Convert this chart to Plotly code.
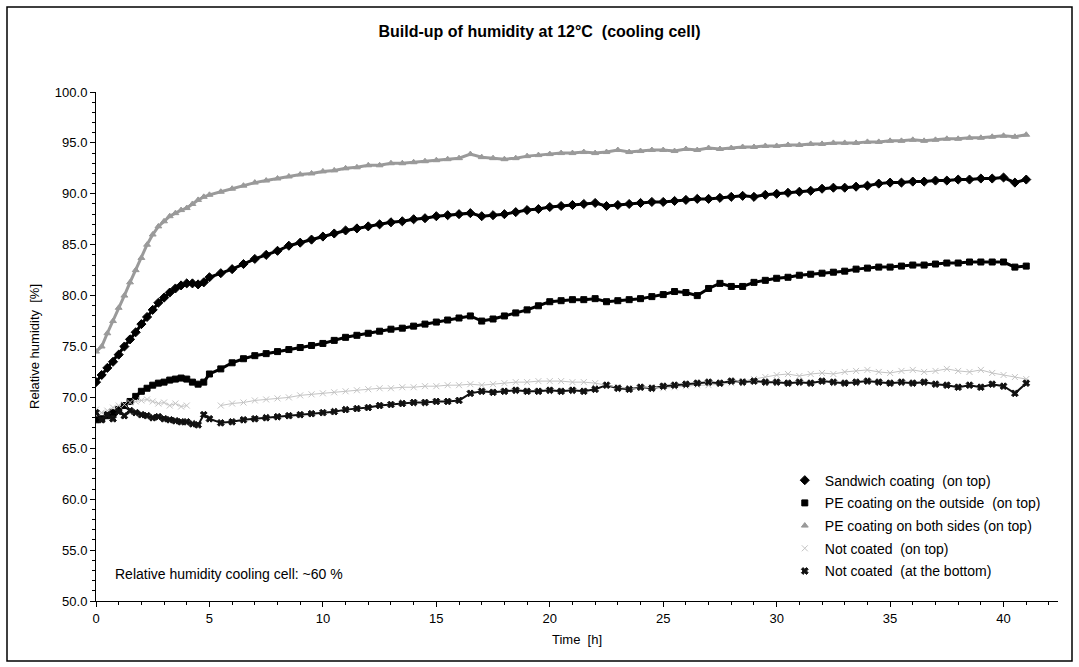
import plotly.graph_objects as go

time_h = [0, 0.25, 0.5, 0.75, 1.0, 1.25, 1.5, 1.75, 2.0, 2.25, 2.5, 2.75, 3.0, 3.25, 3.5, 3.75, 4.0, 4.25, 4.5, 4.75, 5.0,
          5.5, 6, 6.5, 7, 7.5, 8, 8.5, 9, 9.5, 10, 10.5, 11, 11.5, 12, 12.5, 13, 13.5, 14, 14.5, 15,
          15.5, 16, 16.5, 17, 17.5, 18, 18.5, 19, 19.5, 20, 20.5, 21, 21.5, 22, 22.5, 23, 23.5, 24, 24.5, 25,
          25.5, 26, 26.5, 27, 27.5, 28, 28.5, 29, 29.5, 30, 30.5, 31, 31.5, 32, 32.5, 33, 33.5, 34, 34.5, 35,
          35.5, 36, 36.5, 37, 37.5, 38, 38.5, 39, 39.5, 40, 40.5, 41]

sandwich = [71.5, 72.2, 72.9, 73.5, 74.2, 75.0, 75.7, 76.4, 77.2, 77.9, 78.6, 79.3, 79.8, 80.3, 80.7, 81.0, 81.2, 81.2, 81.1, 81.3, 81.8,
            82.2, 82.6, 83.1, 83.6, 84.0, 84.4, 84.9, 85.2, 85.5, 85.8, 86.1, 86.4, 86.6, 86.8, 87.0, 87.2, 87.3, 87.5, 87.6, 87.8,
            87.9, 88.0, 88.1, 87.8, 87.9, 88.0, 88.2, 88.4, 88.5, 88.7, 88.8, 88.9, 89.0, 89.1, 88.8, 88.9, 89.0, 89.1, 89.2, 89.2,
            89.3, 89.4, 89.5, 89.5, 89.6, 89.7, 89.8, 89.7, 89.9, 90.0, 90.1, 90.2, 90.3, 90.5, 90.6, 90.6, 90.7, 90.8, 91.0, 91.1,
            91.1, 91.2, 91.2, 91.3, 91.3, 91.4, 91.4, 91.5, 91.5, 91.6, 91.1, 91.4]

pe_outside = [67.8, 67.9, 68.2, 68.5, 68.8, 69.2, 69.6, 70.1, 70.6, 70.9, 71.2, 71.4, 71.5, 71.7, 71.8, 71.9, 71.8, 71.5, 71.3, 71.5, 72.3,
              72.8, 73.4, 73.8, 74.1, 74.3, 74.5, 74.7, 74.9, 75.1, 75.3, 75.6, 75.9, 76.1, 76.3, 76.5, 76.7, 76.8, 77.0, 77.2, 77.4,
              77.6, 77.8, 78.0, 77.5, 77.7, 78.0, 78.3, 78.6, 79.0, 79.4, 79.5, 79.6, 79.6, 79.7, 79.4, 79.5, 79.6, 79.7, 79.9, 80.1,
              80.4, 80.3, 80.0, 80.7, 81.2, 80.9, 80.9, 81.3, 81.5, 81.7, 81.8, 82.0, 82.1, 82.2, 82.3, 82.4, 82.6, 82.7, 82.8, 82.8,
              82.9, 83.0, 83.0, 83.1, 83.2, 83.2, 83.3, 83.3, 83.3, 83.3, 82.8, 82.9]

pe_both = [74.5, 75.0, 76.3, 77.5, 78.8, 80.0, 81.3, 82.5, 83.7, 85.0, 86.0, 86.8, 87.3, 87.8, 88.1, 88.4, 88.6, 89.0, 89.4, 89.7, 89.9,
           90.2, 90.5, 90.8, 91.1, 91.3, 91.5, 91.7, 91.9, 92.0, 92.2, 92.3, 92.5, 92.6, 92.8, 92.8, 93.0, 93.0, 93.1, 93.2, 93.3,
           93.4, 93.5, 93.9, 93.6, 93.5, 93.4, 93.5, 93.7, 93.8, 93.9, 94.0, 94.0, 94.1, 94.0, 94.1, 94.3, 94.1, 94.2, 94.3, 94.3,
           94.2, 94.4, 94.3, 94.5, 94.4, 94.5, 94.6, 94.6, 94.7, 94.7, 94.8, 94.8, 94.9, 94.9, 95.0, 95.0, 95.0, 95.1, 95.1, 95.2,
           95.2, 95.3, 95.2, 95.3, 95.4, 95.4, 95.5, 95.5, 95.6, 95.7, 95.6, 95.8]

not_coated_top = [68.8, 68.5, 68.7, 69.0, 69.2, 69.3, 69.5, 69.6, 69.7, 69.8, 69.6, 69.4, 69.5, 69.2, 69.4, 69.1, 69.2, None, None, None, None,
                  69.2, 69.4, 69.5, 69.7, 69.8, 69.9, 70.0, 70.2, 70.3, 70.4, 70.5, 70.6, 70.7, 70.8, 70.9, 70.9, 71.0, 71.0, 71.1, 71.1,
                  71.2, 71.2, 71.3, 71.2, 71.3, 71.4, 71.5, 71.5, 71.6, 71.6, 71.6, 71.5, 71.5, 71.4, 71.2, 71.0, 70.9, 70.9, 71.0, 70.9,
                  71.0, 71.1, 71.2, 71.2, 71.3, 71.4, 71.6, 71.8, 72.0, 72.2, 72.3, 72.1, 72.3, 72.4, 72.3, 72.5, 72.6, 72.7, 72.5, 72.4,
                  72.6, 72.7, 72.5, 72.6, 72.8, 72.6, 72.5, 72.7, 72.4, 72.2, 72.0, 71.8]

not_coated_bottom = [68.5, 67.8, 68.3, 67.9, 68.6, 68.2, 68.7, 68.5, 68.3, 68.2, 68.0, 68.1, 67.9, 67.8, 67.7, 67.6, 67.6, 67.4, 67.3, 68.3, 67.9,
                     67.5, 67.6, 67.8, 67.9, 68.0, 68.1, 68.2, 68.3, 68.4, 68.5, 68.6, 68.8, 68.9, 69.0, 69.2, 69.3, 69.4, 69.5, 69.5, 69.6,
                     69.6, 69.7, 70.4, 70.6, 70.5, 70.6, 70.7, 70.6, 70.6, 70.7, 70.6, 70.7, 70.6, 70.8, 71.2, 70.9, 70.8, 71.0, 70.9, 71.1,
                     71.2, 71.3, 71.4, 71.5, 71.4, 71.6, 71.5, 71.6, 71.5, 71.5, 71.4, 71.5, 71.4, 71.6, 71.5, 71.4, 71.5, 71.6, 71.5, 71.4,
                     71.5, 71.4, 71.5, 71.3, 71.2, 71.0, 71.2, 71.0, 71.3, 71.1, 70.4, 71.4]

series_names = ["Sandwich coating  (on top)", "PE coating on the outside  (on top)",
                "PE coating on both sides (on top)", "Not coated  (on top)", "Not coated  (at the bottom)"]
series_values = [sandwich, pe_outside, pe_both, not_coated_top, not_coated_bottom]
series_colors = ["#000000", "#000000", "#9a9a9a", "#c4c4c4", "#111111"]
series_symbols = ["diamond", "square", "triangle-up", "x-thin-open", "x"]
series_sizes = [7, 6, 6, 6, 6]
series_linew = [3, 3, 3, 1, 2]

FONT = "Liberation Sans, Arial, sans-serif"

fig = go.Figure()
order = [4, 3, 0, 1, 2]
for i in order:
    fig.add_trace(go.Scatter(x=time_h, y=series_values[i], mode="lines", showlegend=False,
                             line=dict(color=series_colors[i], width=series_linew[i]),
                             connectgaps=False, hoverinfo="skip"))
for i in range(5):
    fig.add_trace(go.Scatter(x=time_h, y=series_values[i], mode="markers", name=series_names[i],
                             legendgroup=str(i),
                             marker=dict(symbol=series_symbols[i], size=series_sizes[i], color=series_colors[i],
                                         line=dict(width=1, color=series_colors[i]))))

fig.update_layout(
    width=1079, height=667,
    margin=dict(l=96, r=21, t=92, b=66),
    paper_bgcolor="white", plot_bgcolor="white",
    font=dict(family=FONT, size=13, color="black"),
    title=dict(text="<b>Build-up of humidity at 12°C  (cooling cell)</b>", x=0.5, xanchor="center",
               y=1 - 31 / 667, yanchor="middle", font=dict(size=16, family=FONT)),
    legend=dict(x=0.716, y=0.268, xanchor="left", yanchor="top", bgcolor="rgba(0,0,0,0)",
                font=dict(size=14, family=FONT), tracegroupgap=1.5, itemwidth=30),
    showlegend=True,
)
fig.update_xaxes(range=[0, 42.4], tick0=0, dtick=5, showgrid=False, zeroline=False,
                 showline=True, linecolor="black", linewidth=1,
                 ticks="outside", ticklen=5, tickcolor="black",
                 minor=dict(dtick=1, ticks="outside", ticklen=3, tickcolor="black"),
                 title=dict(text="Time  [h]", font=dict(size=13), standoff=10),
                 tickfont=dict(size=13))
fig.update_yaxes(range=[50, 100], tick0=50, dtick=5, tickformat=".1f", showgrid=False, zeroline=False,
                 showline=True, linecolor="black", linewidth=1,
                 ticks="outside", ticklen=5, tickcolor="black",
                 minor=dict(dtick=1, ticks="outside", ticklen=3, tickcolor="black"),
                 title=dict(text="Relative humidity  [%]", font=dict(size=13), standoff=12),
                 tickfont=dict(size=13))

fig.add_annotation(text="Relative humidity cooling cell: ~60 %", xref="paper", yref="paper",
                   x=17 / 962, y=(601 - 574) / 509, xanchor="left", yanchor="middle",
                   showarrow=False, font=dict(size=14, family=FONT))

fig.add_shape(type="rect", xref="paper", yref="paper",
              x0=(7 - 96) / 962, x1=(1072 - 96) / 962, y0=(601 - 661) / 509, y1=(601 - 7) / 509,
              line=dict(color="black", width=1.5), fillcolor="rgba(0,0,0,0)", layer="below")

fig.write_html("out.html")
